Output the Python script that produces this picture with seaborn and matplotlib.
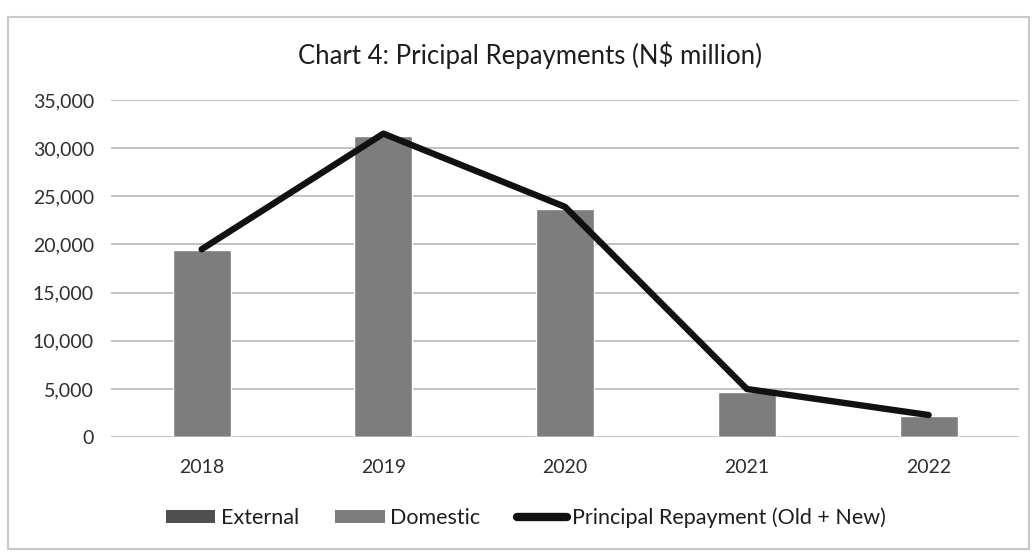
import numpy as np
import pandas as pd
import matplotlib
matplotlib.use("Agg")
import matplotlib.pyplot as plt
from matplotlib.lines import Line2D
from matplotlib.patches import Patch, Rectangle
import seaborn as sns

# Principal repayments, N$ million
years = ["2018", "2019", "2020", "2021", "2022"]
external = [0, 0, 0, 0, 0]
domestic = [19400, 31300, 23700, 4700, 2200]
principal_total = [19500, 31500, 23900, 5000, 2300]

yticks = [0, 5000, 10000, 15000, 20000, 25000, 30000, 35000]

sns.set_theme(style="white")
plt.rcParams["font.family"] = ["Lato", "DejaVu Sans"]

df = pd.DataFrame({
    "year": years,
    "external": external,
    "domestic": domestic,
    "stack": np.add(external, domestic),
    "total": principal_total,
})

fig = plt.figure(figsize=(10.35, 5.52), dpi=100)
fig.patch.set_facecolor("white")
ax = fig.add_axes([0.107, 0.208, 0.878, 0.611])

ext_color = "#4f4f4f"
dom_color = "#7d7d7d"

# Stacked bars: domestic on the full stack height, external drawn over its base
sns.barplot(data=df, x="year", y="stack", color=dom_color, width=0.32,
            saturation=1, ax=ax, zorder=2)
sns.barplot(data=df, x="year", y="external", color=ext_color, width=0.32,
            saturation=1, ax=ax, zorder=3)

# Total principal repayment line
sns.lineplot(x=np.arange(len(years)), y=df["total"], color="#111111",
             linewidth=4.6, ax=ax, zorder=4, solid_capstyle="round",
             solid_joinstyle="round")

ax.set_xlim(-0.5, len(years) - 0.5)
ax.set_ylim(0, 35000)
ax.set_yticks(yticks)
ax.set_yticklabels([f"{v:,}" for v in yticks])
ax.yaxis.grid(True, color="#b8b8b8", linewidth=1.2, zorder=0)
ax.set_axisbelow(True)
for s in ax.spines.values():
    s.set_visible(False)
ax.set_xlabel("")
ax.set_ylabel("")
ax.tick_params(axis="y", labelsize=14, labelcolor="#2e2e2e", length=0, pad=12)
ax.tick_params(axis="x", labelsize=14, labelcolor="#2e2e2e", length=0, pad=16)

fig.text(0.512, 0.900, "Chart 4: Pricipal Repayments (N$ million)",
         ha="center", va="center", fontsize=18.5, color="#1e1e1e")

handles = [
    Patch(facecolor=ext_color, edgecolor="none"),
    Patch(facecolor=dom_color, edgecolor="none"),
    Line2D([0], [0], color="#111111", linewidth=6, solid_capstyle="round"),
]
labels = ["External", "Domestic", "Principal Repayment (Old + New)"]
fig.legend(handles, labels, loc="center", bbox_to_anchor=(0.508, 0.062),
           ncol=3, frameon=False, fontsize=15.5, handlelength=2.3,
           handleheight=0.6, handletextpad=0.25, columnspacing=1.7,
           labelcolor="#1e1e1e")

# Chart area frame
fig.patches.append(Rectangle((0.008, 0.005), 0.986, 0.965,
                             transform=fig.transFigure, fill=False,
                             edgecolor="#c8c8c8", linewidth=1.5))

fig.savefig("out.png", dpi=100)
